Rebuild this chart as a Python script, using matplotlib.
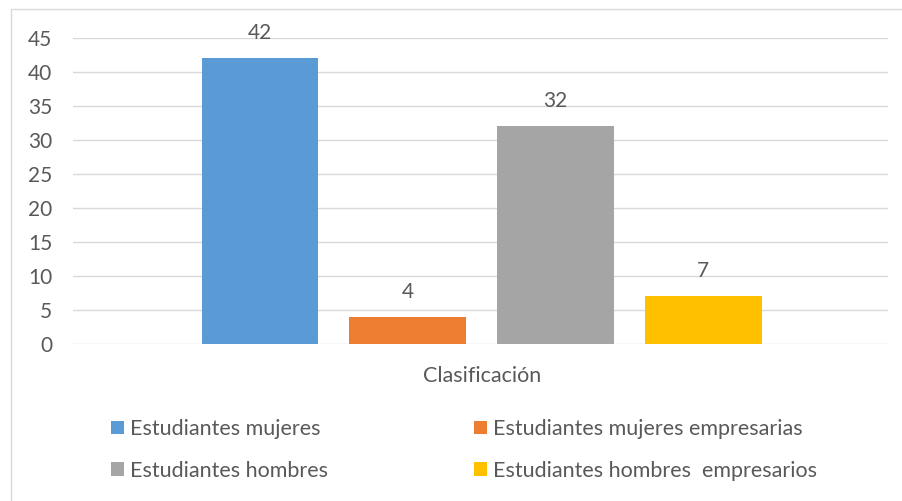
import matplotlib.pyplot as plt
from matplotlib.patches import Rectangle, Patch

categories = ['Estudiantes mujeres', 'Estudiantes mujeres empresarias',
              'Estudiantes hombres', 'Estudiantes hombres  empresarios']
values = [42, 4, 32, 7]
colors = ['#5B9BD5', '#ED7D31', '#A5A5A5', '#FFC000']
y_ticks = [0, 5, 10, 15, 20, 25, 30, 35, 40, 45]
x_label = 'Clasificación'

plt.rcParams['font.family'] = ['Lato', 'DejaVu Sans']
text_color = '#595959'

W, H = 903, 501
fig = plt.figure(figsize=(W / 100, H / 100), dpi=100)
ax = fig.add_axes([73 / W, (H - 344) / H, (888 - 73) / W, (344 - 38) / H])

positions = [0, 1, 2, 3]
bars = ax.bar(positions, values, width=0.79, color=colors, zorder=3)
ax.bar_label(bars, padding=11, fontsize=15, color=text_color)

ax.set_xlim(-1.266, 4.25)
ax.set_ylim(0, 45)
ax.set_yticks(y_ticks)
ax.tick_params(axis='y', length=0, labelsize=15, labelcolor=text_color, pad=15)
ax.set_xticks([])
ax.grid(axis='y', color='#D9D9D9', linewidth=1, zorder=0)
for s in ax.spines.values():
    s.set_visible(False)

fig.text(482 / W, 1 - 376 / H, x_label, ha='center', va='center',
         fontsize=15.5, color=text_color)

# legend, two columns
handles = [Patch(facecolor=c) for c in colors]
for x0, idx in [(111, [0, 2]), (474, [1, 3])]:
    fig.legend([handles[i] for i in idx], [categories[i] for i in idx],
               loc='upper left', bbox_to_anchor=(x0 / W, 1 - 419 / H),
               frameon=False, fontsize=15.5, labelcolor=text_color,
               handlelength=0.6, handleheight=0.6, handletextpad=0.3,
               labelspacing=1.0, borderpad=0, borderaxespad=0)

# outer chart border
fig.patches.append(Rectangle((11 / W, -0.1), 1.2, 1 - 9 / H + 0.1,
                             transform=fig.transFigure, fill=False,
                             edgecolor='#D9D9D9', linewidth=1))

fig.savefig('out.png', dpi=100)
